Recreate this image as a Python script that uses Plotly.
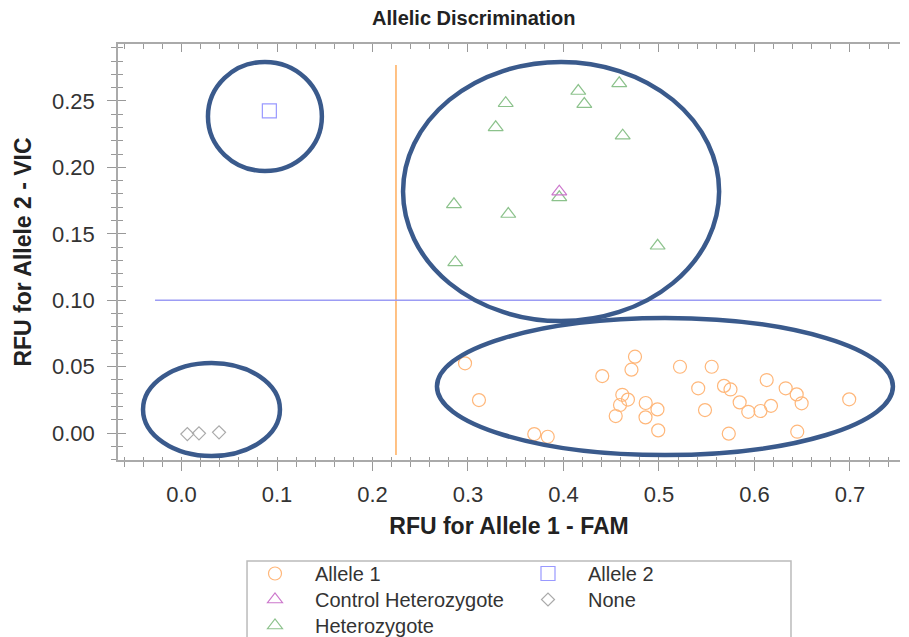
import plotly.graph_objects as go

# ---------------- data ----------------
allele1_x = [0.2969, 0.3115, 0.3694, 0.3835, 0.4406, 0.4749, 0.4712, 0.4616, 0.4675, 0.4592,
             0.4547, 0.4861, 0.4984, 0.4859, 0.4992, 0.5220, 0.5552, 0.5411, 0.5482, 0.5681,
             0.5749, 0.5845, 0.5935, 0.6063, 0.6173, 0.6128, 0.6327, 0.6442, 0.6494, 0.6448,
             0.5731, 0.6992]
allele1_y = [0.0525, 0.0248, -0.0008, -0.0028, 0.0429, 0.0575, 0.0477, 0.0288, 0.0252, 0.0211,
             0.0128, 0.0226, 0.0178, 0.0118, 0.0020, 0.0499, 0.0499, 0.0337, 0.0173, 0.0355,
             0.0328, 0.0231, 0.0160, 0.0166, 0.0205, 0.0399, 0.0337, 0.0291, 0.0224, 0.0010,
             -0.0005, 0.0254]

het_x = [0.3395, 0.3290, 0.4155, 0.4218, 0.4584, 0.4620, 0.3956, 0.2853, 0.3422, 0.4986, 0.2867]
het_y = [0.2483, 0.2302, 0.2575, 0.2477, 0.2633, 0.2239, 0.1775, 0.1722, 0.1649, 0.1410, 0.1285]

ctrl_het_x = [0.3956]
ctrl_het_y = [0.1817]

allele2_x = [0.0920]
allele2_y = [0.2425]

none_x = [0.0061, 0.0183, 0.0393]
none_y = [-0.0008, -0.0002, 0.0005]

# threshold lines
fam_line_x = [0.2246, 0.2246]
fam_line_y = [-0.0166, 0.2770]
vic_line_x = [-0.0277, 0.7330]
vic_line_y = [0.1000, 0.1000]

# cluster ellipses (x0, x1, y0, y1) in data units
ellipses = [
    (0.0277, 0.1470, 0.1973, 0.2794),
    (0.2320, 0.5630, 0.0843, 0.2794),
    (0.2675, 0.7450, -0.0166, 0.0866),
    (-0.0403, 0.1031, -0.0173, 0.0527),
]

x_range = [-0.0665, 0.7524]
y_range = [-0.0203, 0.2929]

FONT = "Liberation Sans"
TXT = "#333333"

fig = go.Figure()

fig.add_trace(go.Scatter(x=fam_line_x, y=fam_line_y, mode="lines",
                         line=dict(color="#FFB266", width=1.6), showlegend=False, hoverinfo="skip"))
fig.add_trace(go.Scatter(x=vic_line_x, y=vic_line_y, mode="lines",
                         line=dict(color="#9C9CF4", width=1.6), showlegend=False, hoverinfo="skip"))

fig.add_trace(go.Scatter(x=allele1_x, y=allele1_y, mode="markers", name="Allele 1",
                         marker=dict(symbol="circle-open", size=13, color="#FFB77A",
                                     line=dict(width=1.2)), legend="legend"))
fig.add_trace(go.Scatter(x=het_x, y=het_y, mode="markers", name="Heterozygote",
                         marker=dict(symbol="triangle-up-open", size=13, color="#8CC28C",
                                     line=dict(width=1.2)), legend="legend3"))
fig.add_trace(go.Scatter(x=ctrl_het_x, y=ctrl_het_y, mode="markers", name="Control Heterozygote",
                         marker=dict(symbol="triangle-up-open", size=13, color="#CC77CC",
                                     line=dict(width=1.2)), legend="legend2"))
fig.add_trace(go.Scatter(x=allele2_x, y=allele2_y, mode="markers", name="Allele 2",
                         marker=dict(symbol="square-open", size=14, color="#9999FF",
                                     line=dict(width=1.2)), legend="legend4"))
fig.add_trace(go.Scatter(x=none_x, y=none_y, mode="markers", name="None",
                         marker=dict(symbol="diamond-open", size=10, color="#AAAAAA",
                                     line=dict(width=1.2)), legend="legend5"))

# empty traces so the overlay tick axes exist
fig.add_trace(go.Scatter(x=[None], y=[None], xaxis="x2", yaxis="y2", showlegend=False, hoverinfo="skip"))
fig.add_trace(go.Scatter(x=[None], y=[None], xaxis="x3", yaxis="y2", showlegend=False, hoverinfo="skip"))

for (x0, x1, y0, y1) in ellipses:
    fig.add_shape(type="circle", xref="x", yref="y", x0=x0, x1=x1, y0=y0, y1=y1,
                  line=dict(color="#3A5A8C", width=4.5))

# legend box
fig.add_shape(type="rect", xref="paper", yref="paper", x0=0.165, x1=0.8606, y0=-0.50, y1=-0.2428,
              line=dict(color="#BBBBBB", width=1.5), layer="below")

axis_common = dict(showgrid=False, zeroline=False, showline=True, linecolor="#AAAAAA", linewidth=1.5,
                   tickcolor="#999999", tickwidth=1.2)

PLOT_TOP, PLOT_BOTTOM = 44, 460
PLOT_H = PLOT_BOTTOM - PLOT_TOP


def legend_at(px_x, px_row_center):
    # place a one-item legend so that its row is centred at the given pixel position
    return dict(x=(px_x - 118) / 782, y=(PLOT_BOTTOM - (px_row_center - 19)) / PLOT_H,
                xanchor="left", yanchor="top", orientation="v",
                bgcolor="rgba(0,0,0,0)", borderwidth=0, itemwidth=70,
                font=dict(size=20, color=TXT))


fig.update_layout(
    width=909, height=637,
    margin=dict(l=118, r=9, t=PLOT_TOP, b=637 - PLOT_BOTTOM, autoexpand=False),
    paper_bgcolor="white", plot_bgcolor="white",
    font=dict(family=FONT, color=TXT),
    title=dict(text="<b>Allelic Discrimination</b>", x=0.455, xref="paper", xanchor="center",
               y=1 - 18 / 637, yref="container", yanchor="middle",
               font=dict(family=FONT, size=20, color="#222222")),
    xaxis=dict(range=x_range, dtick=0.1, tick0=0, tickformat=".1f", ticks="outside", ticklen=9,
               ticklabelstandoff=5,
               minor=dict(dtick=0.02, tick0=0, ticks="outside", ticklen=5, tickcolor="#999999"),
               tickfont=dict(size=22, color=TXT),
               title=dict(text="<b>RFU for Allele 1 - FAM</b>", font=dict(size=23, color="#222222"),
                          standoff=12),
               **axis_common),
    xaxis2=dict(range=x_range, overlaying="x", side="top", anchor="y2", ticks="inside", ticklen=8,
                dtick=0.1, tick0=0, showticklabels=False,
                minor=dict(dtick=0.02, tick0=0, ticks="inside", ticklen=5, tickcolor="#999999"),
                **axis_common),
    xaxis3=dict(range=x_range, overlaying="x", side="bottom", anchor="y2", ticks="inside", ticklen=3,
                dtick=0.1, tick0=0, showticklabels=False, showline=False,
                minor=dict(dtick=0.02, tick0=0, ticks="inside", ticklen=3, tickcolor="#999999"),
                showgrid=False, zeroline=False, tickcolor="#999999", tickwidth=1.2),
    yaxis=dict(range=y_range, dtick=0.05, tick0=0, tickformat=".2f", ticks="outside", ticklen=9,
               ticklabelstandoff=8,
               minor=dict(dtick=0.01, tick0=0, ticks="outside", ticklen=5, tickcolor="#999999"),
               tickfont=dict(size=22, color=TXT),
               title=dict(text="<b>RFU for Allele 2 - VIC</b>", font=dict(size=23, color="#222222"),
                          standoff=14),
               **axis_common),
    yaxis2=dict(range=y_range, overlaying="y", side="left", anchor="x", ticks="inside", ticklen=8,
                dtick=0.05, tick0=0, showticklabels=False,
                minor=dict(dtick=0.01, tick0=0, ticks="inside", ticklen=5, tickcolor="#999999"),
                **axis_common),
    legend=legend_at(235, 573),
    legend2=legend_at(235, 599),
    legend3=legend_at(235, 625),
    legend4=legend_at(508, 573),
    legend5=legend_at(508, 599),
    showlegend=True,
)

fig.write_html("out.html")
